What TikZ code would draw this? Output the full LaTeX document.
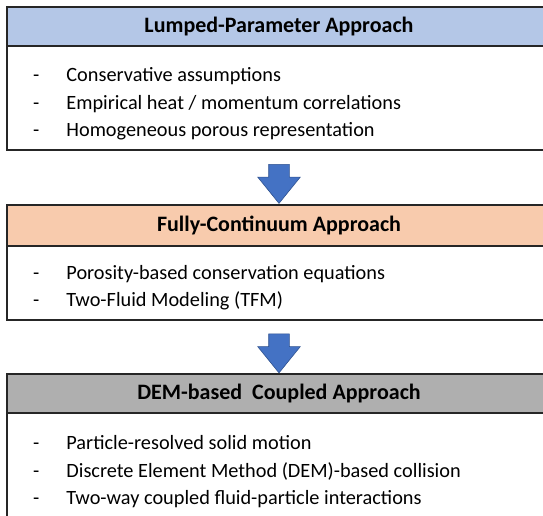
\documentclass[tikz,border=0pt]{standalone}
\usepackage{fontspec}
\setmainfont{Carlito}
\usetikzlibrary{positioning,calc,shapes.arrows}

\definecolor{headblue}{HTML}{B4C7E7}
\definecolor{headorange}{HTML}{F8CBAD}
\definecolor{headgray}{HTML}{AFAFAF}
\definecolor{arrowblue}{HTML}{4472C4}
\definecolor{arrowedge}{HTML}{2F528F}
\definecolor{boxline}{HTML}{262626}

\begin{document}
\begin{tikzpicture}[x=1pt, y=-1pt,
  head/.style={draw=boxline, line width=1.5pt, minimum width=544pt, minimum height=39pt,
    inner sep=0pt, outer sep=0pt, font=\bfseries\fontsize{22}{26}\selectfont},
  body/.style={draw=boxline, line width=1.5pt, minimum width=544pt, inner sep=0pt, outer sep=0pt},
  items/.style={anchor=west, inner sep=0pt, align=left, font=\fontsize{20.3}{27.5}\selectfont},
  stagearrow/.style={single arrow, shape border rotate=270, fill=arrowblue, draw=arrowedge,
    line width=0.6pt, minimum height=39pt, minimum width=42pt, inner sep=10pt,
    single arrow head extend=11pt, single arrow tip angle=78}]
  \useasboundingbox (0,0) rectangle (543,515);
  \clip (0,0) rectangle (543,515);

  % lumped parameter
  \node[head, fill=headblue] (lump) at (279,26.5) {Lumped-Parameter Approach};
  \node[body, minimum height=104pt, below=0pt of lump] (lumpbody) {};
  \node[items] (lumpitems) at ([xshift=26pt,yshift=-5.5pt]lumpbody.west) {%
    \begin{tabular}{@{}l@{\hspace{27pt}}l@{}}
      - & Conservative assumptions\\
      - & Empirical heat / momentum correlations\\
      - & Homogeneous porous representation
    \end{tabular}};

  % fully continuum
  \node[head, fill=headorange, minimum height=41pt, below=55pt of lumpbody] (fluid) {Fully-Continuum Approach};
  \node[body, minimum height=74pt, below=0pt of fluid] (fluidbody) {};
  \node[items] (fluiditems) at ([xshift=26pt,yshift=-4.5pt]fluidbody.west) {%
    \begin{tabular}{@{}l@{\hspace{27pt}}l@{}}
      - & Porosity-based conservation equations\\
      - & Two-Fluid Modeling (TFM)
    \end{tabular}};

  % dem coupled
  \node[head, fill=headgray, below=54pt of fluidbody] (dem) {DEM-based\ \ Coupled Approach};
  \node[body, minimum height=104pt, below=0pt of dem] (dembody) {};
  \node[items] (demitems) at ([xshift=26pt,yshift=-6.5pt]dembody.west) {%
    \begin{tabular}{@{}l@{\hspace{27pt}}l@{}}
      - & Particle-resolved solid motion\\
      - & Discrete Element Method (DEM)-based collision\\
      - & Two-way coupled fluid-particle interactions
    \end{tabular}};

  \node[stagearrow] (arr1) at ($(lumpbody.south)!0.5!(fluid.north)$) {};
  \node[stagearrow] (arr2) at ($(fluidbody.south)!0.5!(dem.north)$) {};
\end{tikzpicture}
\end{document}
